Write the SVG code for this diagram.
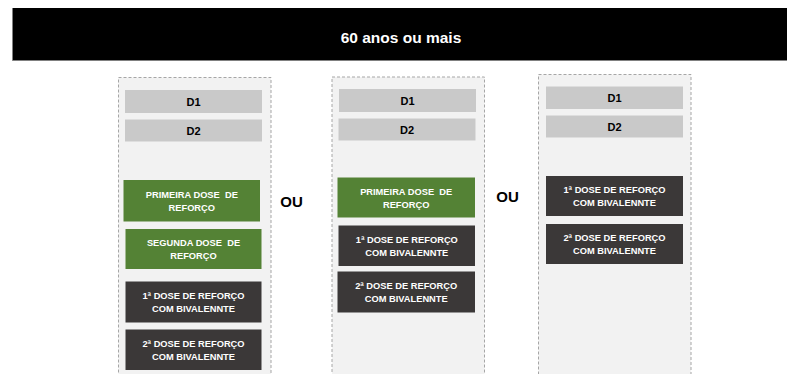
<svg xmlns="http://www.w3.org/2000/svg" width="787" height="374" viewBox="0 0 787 374">
<style>
text{font-family:"Liberation Sans",Arial,sans-serif;font-weight:bold;text-anchor:middle;white-space:pre}
.col{fill:#f2f2f2;stroke:#a6a6a6;stroke-width:1;stroke-dasharray:3 2}
.d{fill:#c9c9c9}
.g{fill:#548235}
.k{fill:#3b3838}
.dt{font-size:11px;fill:#000}
.bt{font-size:9.3px;fill:#fff}
.ou{font-size:15px;fill:#000}
.hd{font-size:15.5px;fill:#fff}
</style>
<rect x="0" y="0" width="787" height="374" fill="#fff"/>
<g id="header">
<rect x="12.5" y="8" width="775" height="52.5" fill="#000"/>
<path d="M12.5 8V60.5H787" fill="none" stroke="#808080" stroke-width="1"/>
<text class="hd" x="401" y="42.5">60 anos ou mais</text>
</g>
<g id="columns">
<rect id="col1" class="col" x="118.5" y="77.5" width="152.5" height="310"/>
<rect id="col2" class="col" x="332" y="77" width="152.5" height="310"/>
<rect id="col3" class="col" x="538.5" y="74.5" width="152.5" height="310"/>
</g>
<g id="connectors"></g>
<g id="c1-d1"><rect class="d" x="125" y="90" width="137" height="23"/><text class="dt" x="193.5" y="105.5">D1</text></g>
<g id="c1-d2"><rect class="d" x="125" y="119.5" width="137" height="22"/><text class="dt" x="193.5" y="134.5">D2</text></g>
<g id="c1-g1"><rect class="g" x="123.5" y="180" width="136.5" height="41.5"/><text class="bt" x="191.8" y="198">PRIMEIRA DOSE  DE</text><text class="bt" x="191.8" y="210.8">REFORÇO</text></g>
<g id="c1-g2"><rect class="g" x="125.5" y="229" width="136" height="40"/><text class="bt" x="193.5" y="246.2">SEGUNDA DOSE  DE</text><text class="bt" x="193.5" y="259">REFORÇO</text></g>
<g id="c1-k1"><rect class="k" x="125.5" y="281.5" width="136" height="41"/><text class="bt" x="193.5" y="299.2">1ª DOSE DE REFORÇO</text><text class="bt" x="193.5" y="312">COM BIVALENNTE</text></g>
<g id="c1-k2"><rect class="k" x="125.5" y="329.5" width="136" height="40.5"/><text class="bt" x="193.5" y="347">2ª DOSE DE REFORÇO</text><text class="bt" x="193.5" y="359.8">COM BIVALENNTE</text></g>
<g id="ou1"><text class="ou" x="291.5" y="207">OU</text></g>
<g id="c2-d1"><rect class="d" x="339" y="89" width="137" height="23"/><text class="dt" x="407.5" y="104.5">D1</text></g>
<g id="c2-d2"><rect class="d" x="338.5" y="118.5" width="137" height="22"/><text class="dt" x="407" y="133.5">D2</text></g>
<g id="c2-g1"><rect class="g" x="337.5" y="177.5" width="137.5" height="40"/><text class="bt" x="406.2" y="194.8">PRIMEIRA DOSE  DE</text><text class="bt" x="406.2" y="207.6">REFORÇO</text></g>
<g id="c2-k1"><rect class="k" x="338.5" y="225.5" width="136.5" height="40.5"/><text class="bt" x="406.8" y="243">1ª DOSE DE REFORÇO</text><text class="bt" x="406.8" y="255.8">COM BIVALENNTE</text></g>
<g id="c2-k2"><rect class="k" x="337.5" y="271.5" width="137.5" height="41"/><text class="bt" x="406.2" y="289.2">2ª DOSE DE REFORÇO</text><text class="bt" x="406.2" y="302">COM BIVALENNTE</text></g>
<g id="ou2"><text class="ou" x="507.5" y="202">OU</text></g>
<g id="c3-d1"><rect class="d" x="546" y="86.5" width="137" height="22.5"/><text class="dt" x="614.5" y="101.8">D1</text></g>
<g id="c3-d2"><rect class="d" x="546" y="115.5" width="137" height="22"/><text class="dt" x="614.5" y="130.5">D2</text></g>
<g id="c3-k1"><rect class="k" x="546" y="176" width="137" height="40"/><text class="bt" x="614.5" y="193.2">1ª DOSE DE REFORÇO</text><text class="bt" x="614.5" y="206">COM BIVALENNTE</text></g>
<g id="c3-k2"><rect class="k" x="546" y="224" width="137" height="40"/><text class="bt" x="614.5" y="241.2">2ª DOSE DE REFORÇO</text><text class="bt" x="614.5" y="254">COM BIVALENNTE</text></g>
</svg>
